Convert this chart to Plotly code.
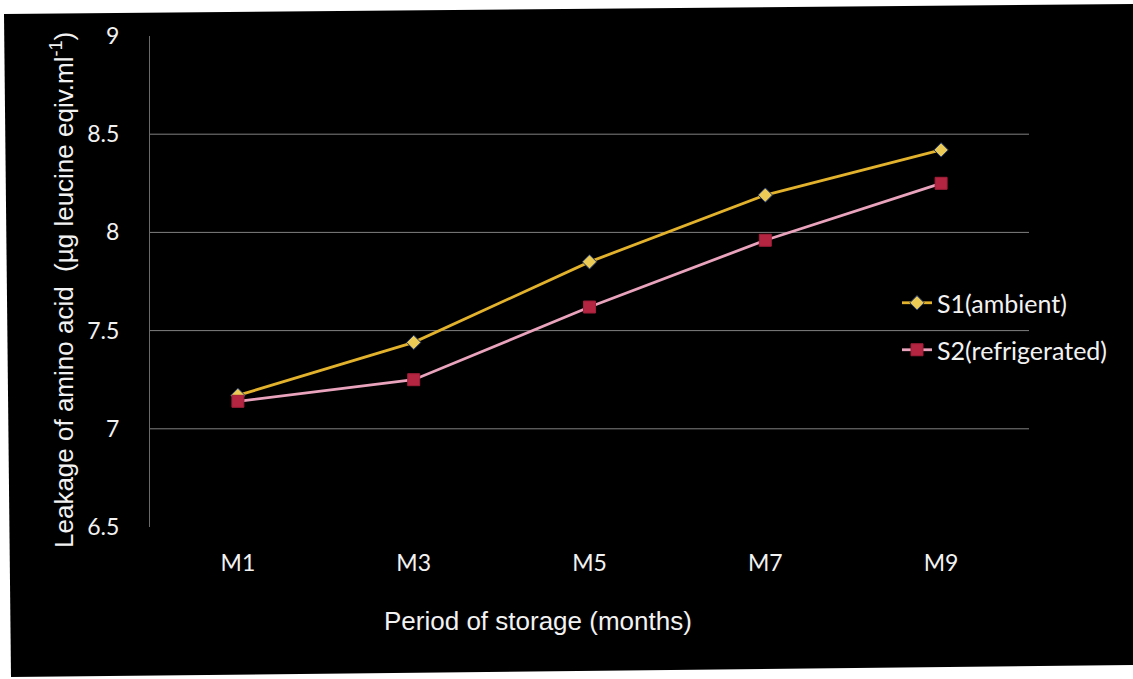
import plotly.graph_objects as go

# Storage period categories and amino-acid leakage per storage condition
months = ["M1", "M3", "M5", "M7", "M9"]
s1_ambient = [7.17, 7.44, 7.85, 8.19, 8.42]
s2_refrigerated = [7.14, 7.25, 7.62, 7.96, 8.25]

y_ticks = [6.5, 7, 7.5, 8, 8.5, 9]
y_tick_text = ["6.5", "7", "7.5", "8", "8.5", "9"]
grid_values = [7, 7.5, 8, 8.5]

W, H = 1133, 679
M_L, M_R, M_T, M_B = 150, 104, 36, 152
PLOT_W = W - M_L - M_R
PLOT_H = H - M_T - M_B


def px_x(px):
    """Pixel column -> paper x fraction."""
    return (px - M_L) / PLOT_W


def px_y(py):
    """Pixel row -> paper y fraction."""
    return (H - M_B - py) / PLOT_H


TEXT = "#f2f2f2"
TICK_FONT = dict(family="Lato, Calibri, sans-serif", size=23, color=TEXT)
TITLE_FONT = dict(family="Liberation Sans, Arial, sans-serif", size=26, color=TEXT)

fig = go.Figure()

fig.add_trace(go.Scatter(
    x=months, y=s1_ambient, name="S1(ambient)", mode="lines+markers",
    line=dict(color="#E2B22C", width=2.8),
    marker=dict(symbol="diamond", size=11, color="#EBCB55",
                line=dict(color="#203A78", width=1)),
    legend="legend",
))
fig.add_trace(go.Scatter(
    x=months, y=s2_refrigerated, name="S2(refrigerated)", mode="lines+markers",
    line=dict(color="#E9A3BC", width=2.8),
    marker=dict(symbol="square", size=12, color="#B42541",
                line=dict(color="#A01E38", width=1)),
    legend="legend2",
))

# Slightly tilted black panel on a white page
panel = [(4, 14), (1133, 4), (1133, 665), (11, 677)]
path = "M " + " L ".join(f"{px_x(a):.5f},{px_y(b):.5f}" for a, b in panel) + " Z"
shapes = [dict(type="path", path=path, xref="paper", yref="paper",
               fillcolor="black", line=dict(width=0), layer="below")]

# Interior horizontal gridlines
for g in grid_values:
    shapes.append(dict(type="line", xref="paper", yref="y", x0=0, x1=1, y0=g, y1=g,
                       line=dict(color="#808080", width=1), layer="between"))

legend_common = dict(
    xref="paper", yref="paper", xanchor="left", yanchor="middle",
    bgcolor="rgba(0,0,0,0)", borderwidth=0,
    font=dict(family="Lato, Calibri, sans-serif", size=25, color=TEXT),
)

fig.update_layout(
    width=W, height=H,
    margin=dict(l=M_L, r=M_R, t=M_T, b=M_B, autoexpand=False),
    paper_bgcolor="white",
    plot_bgcolor="black",
    showlegend=True,
    legend=dict(x=px_x(897), y=px_y(303), **legend_common),
    legend2=dict(x=px_x(897), y=px_y(350), **legend_common),
    shapes=shapes,
    xaxis=dict(
        type="category", range=[-0.5, len(months) - 0.5],
        showgrid=False, showline=False, zeroline=False,
        ticks="", tickfont=TICK_FONT, ticklabelstandoff=20,
    ),
    yaxis=dict(
        range=[6.5, 9], tickvals=y_ticks, ticktext=y_tick_text,
        showgrid=False, zeroline=False, showline=True,
        linecolor="#6a6a6a", linewidth=1, ticks="",
        tickfont=TICK_FONT, ticklabelstandoff=25,
    ),
    annotations=[
        dict(text="Leakage of amino acid\u00a0 (µg leucine eqiv.ml<sup>-1</sup>)",
             xref="paper", yref="paper", x=px_x(62), y=px_y(290),
             textangle=-90, showarrow=False, xanchor="center", yanchor="middle",
             font=TITLE_FONT),
        dict(text="Period of storage (months)",
             xref="paper", yref="paper", x=px_x(538), y=px_y(621),
             showarrow=False, xanchor="center", yanchor="middle",
             font=TITLE_FONT),
    ],
)

fig.write_html("out.html")
